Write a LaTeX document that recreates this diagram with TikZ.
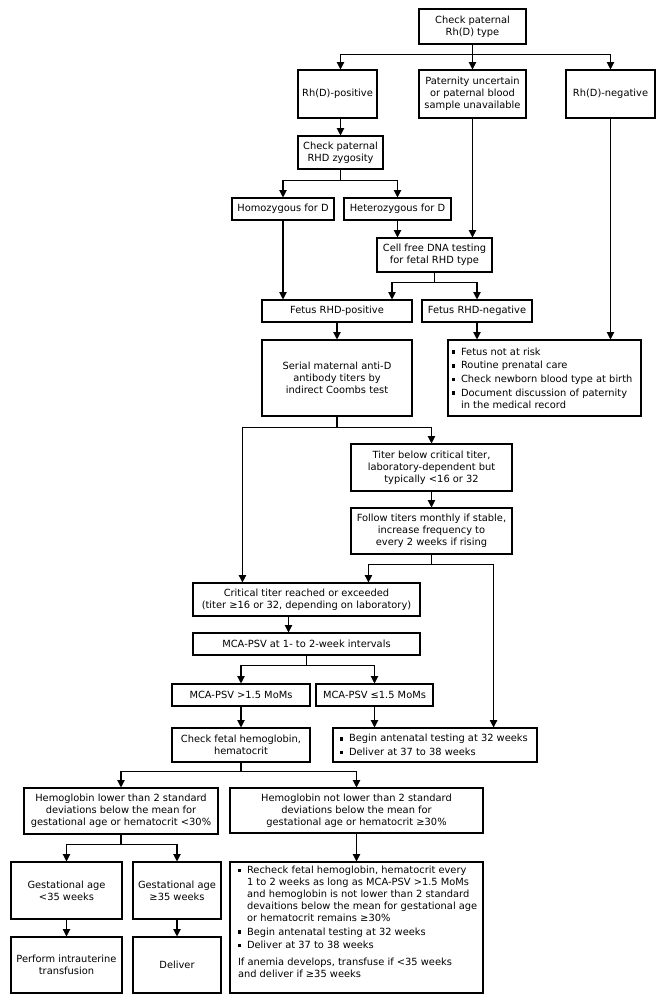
\documentclass[tikz,border=0pt]{standalone}
\usepackage{fontspec}
\setmainfont{DejaVu Sans}
\usetikzlibrary{arrows.meta}
\newdimen\pxu \pxu=0.75pt
\tikzset{
 box/.style={draw, line width=0.8pt, rectangle, align=center, inner sep=0pt, font=\fontsize{7.4}{9}\selectfont},
 lbox/.style={draw, line width=0.8pt, rectangle, inner sep=0pt, font=\fontsize{7.4}{9}\selectfont},
 arr/.style={line width=0.8pt, -{Triangle[length=5.5pt,width=5.5pt]}},
}
\newcommand\mybox[6]{%
 \pgfmathsetmacro\cxx{(#2+#4)/2}\pgfmathsetmacro\cyy{(#3+#5)/2}%
 \pgfmathsetmacro\ww{(#4-#2)*0.75}\pgfmathsetmacro\hh{(#5-#3)*0.75}%
 \node[box, minimum width=\ww pt, minimum height=\hh pt] (#1) at (\cxx,\cyy) {#6};}
\newcommand\mylist[9]{%
 \pgfmathsetmacro\cxx{(#2+#4)/2}\pgfmathsetmacro\cyy{(#3+#5)/2}%
 \pgfmathsetmacro\ww{(#4-#2)*0.75}\pgfmathsetmacro\hh{(#5-#3)*0.75}%
 \pgfmathsetmacro\tw{\ww-#7*0.75}\pgfmathsetmacro\th{\hh-2*#8*0.75}%
 \node[lbox, minimum width=\ww pt, minimum height=\hh pt] (#1) at (\cxx,\cyy) {\hspace*{#7\pxu}\begin{minipage}[c][\th pt][#6]{\tw pt}\raggedright\setlength\parskip{1.2pt}#9\end{minipage}};}
\newcommand\myitem[1]{\par\noindent\hangindent=6.8pt\hangafter=1\makebox[6.8pt][l]{\raisebox{1pt}{\rule{2.6pt}{2.6pt}}}#1\par}
\begin{document}
\begin{tikzpicture}[x=0.75pt,y=-0.75pt]
\useasboundingbox (0,0) rectangle (665,1004);
\mybox{top}{419}{9}{526}{44}{Check paternal\\Rh(D) type}
\mybox{rhp}{298}{70}{377}{118}{Rh(D)-positive}
\mybox{pat}{419}{70}{526}{118}{Paternity uncertain\\or paternal blood\\sample unavailable}
\mybox{rhn}{566}{70}{655}{118}{Rh(D)-negative}
\mybox{zyg}{298}{136}{383}{169}{Check paternal\\RHD zygosity}
\mybox{homo}{232}{198}{334}{220}{Homozygous for D}
\mybox{het}{344}{198}{451}{220}{Heterozygous for D}
\mybox{cf}{377}{238}{492}{272}{Cell free DNA testing\\for fetal RHD type}
\mybox{fp}{262}{300}{412}{322}{Fetus RHD-positive}
\mybox{fn}{422}{300}{532}{322}{Fetus RHD-negative}
\mybox{serial}{262}{340}{412}{416}{Serial maternal anti-D\\antibody titers by\\indirect Coombs test}
\mylist{bul1}{448}{340}{641}{416}{c}{4}{3}{%
\myitem{Fetus not at risk}
\myitem{Routine prenatal care}
\myitem{Check newborn blood type at birth}
\myitem{Document discussion of paternity\newline in the medical record}}
\mybox{titer}{351}{444}{512}{491}{Titer below critical titer,\\laboratory-dependent but\\typically <16 or 32}
\mybox{follow}{351}{508}{512}{554}{Follow titers monthly if stable,\\increase frequency to\\every 2 weeks if rising}
\mybox{crit}{193}{583}{420}{616}{Critical titer reached or exceeded\\(titer ≥16 or 32, depending on laboratory)}
\mybox{mca}{193}{633}{420}{655}{MCA-PSV at 1- to 2-week intervals}
\mybox{gt}{172}{684}{310}{706}{MCA-PSV >1.5 MoMs}
\mybox{le}{316}{684}{433}{706}{MCA-PSV ≤1.5 MoMs}
\mybox{chk}{172}{728}{310}{762}{Check fetal hemoglobin,\\hematocrit}
\mylist{bul2}{333}{728}{537}{762}{c}{7}{3}{%
\myitem{Begin antenatal testing at 32 weeks}
\myitem{Deliver at 37 to 38 weeks}}
\mybox{hl}{24}{788}{218}{834}{Hemoglobin lower than 2 standard\\deviations below the mean for\\gestational age or hematocrit <30\%}
\mybox{hn}{230}{788}{483}{833}{Hemoglobin not lower than 2 standard\\deviations below the mean for\\gestational age or hematocrit ≥30\%}
\mybox{g1}{11}{862}{122}{919}{Gestational age\\<35 weeks}
\mybox{g2}{133}{862}{221}{919}{Gestational age\\≥35 weeks}
\mybox{perf}{11}{937}{122}{993}{Perform intrauterine\\transfusion}
\mybox{deliv}{133}{937}{221}{993}{Deliver}
\mylist{bul3}{230}{862}{483}{993}{t}{8}{4}{%
\myitem{Recheck fetal hemoglobin, hematocrit every\newline 1 to 2 weeks as long as MCA-PSV >1.5 MoMs\newline and hemoglobin is not lower than 2 standard\newline devaitions below the mean for gestational age\newline or hematocrit remains ≥30\%}
\myitem{Begin antenatal testing at 32 weeks}
\myitem{Deliver at 37 to 38 weeks}
\vspace{2.5pt}\noindent If anemia develops, transfuse if <35 weeks\newline and deliver if ≥35 weeks\par}
% connectors
\draw[arr] (top.south) -- ++(0,10) -| (rhp.north -| zyg.north);
\draw[arr] (top.south) -- (pat.north);
\draw[arr] (top.south) -- ++(0,10) -| (rhn.north);
\draw[arr] (rhp.south -| zyg.north) -- (zyg.north);
\draw[arr] (zyg.south) -- ++(0,11) -| (homo.north);
\draw[arr] (zyg.south) -- ++(0,11) -| (het.north);
\draw[arr] (homo.south) -- (homo.south |- fp.north);
\draw[arr] (het.south) -- (het.south |- cf.north);
\draw[arr] (pat.south) -- (pat.south |- cf.north);
\draw[arr] (cf.south) -- ++(0,10) -| ([xshift=41.25pt]fp.north);
\draw[arr] (cf.south) -- ++(0,10) -| (fn.north);
\draw[arr] (fp.south) -- (serial.north);
\draw[arr] (fn.south) -- (fn.south |- bul1.north);
\draw[arr] (rhn.south) -- (rhn.south |- bul1.north);
\draw[arr] (serial.south) -- ++(0,10.5) -| ([xshift=37.5pt]crit.north west);
\draw[arr] (serial.south) -- ++(0,10.5) -| (titer.north);
\draw[arr] (titer.south) -- (follow.north);
\draw[arr] (follow.south) -- ++(0,10) -| ([xshift=132pt]crit.north west);
\draw[arr] (follow.south) -- ++(0,10) -| ([xshift=-33pt]bul2.north east);
\draw[arr] ([xshift=-13.5pt]crit.south) -- ([xshift=-13.5pt]mca.north);
\draw[arr] (mca.south) -- ++(0,10) -| (gt.north);
\draw[arr] (mca.south) -- ++(0,10) -| (le.north);
\draw[arr] (gt.south) -- (chk.north);
\draw[arr] (le.south) -- (le.south |- bul2.north);
\draw[arr] (chk.south) -- ++(0,9) -| (hl.north);
\draw[arr] (chk.south) -- ++(0,9) -| (hn.north);
\draw[arr] (hl.south) -- ++(0,10) -| (g1.north);
\draw[arr] (hl.south) -- ++(0,10) -| (g2.north);
\draw[arr] (g1.south) -- (perf.north);
\draw[arr] (g2.south) -- (deliv.north);
\draw[arr] (hn.south) -- (hn.south |- bul3.north);
\end{tikzpicture}
\end{document}
